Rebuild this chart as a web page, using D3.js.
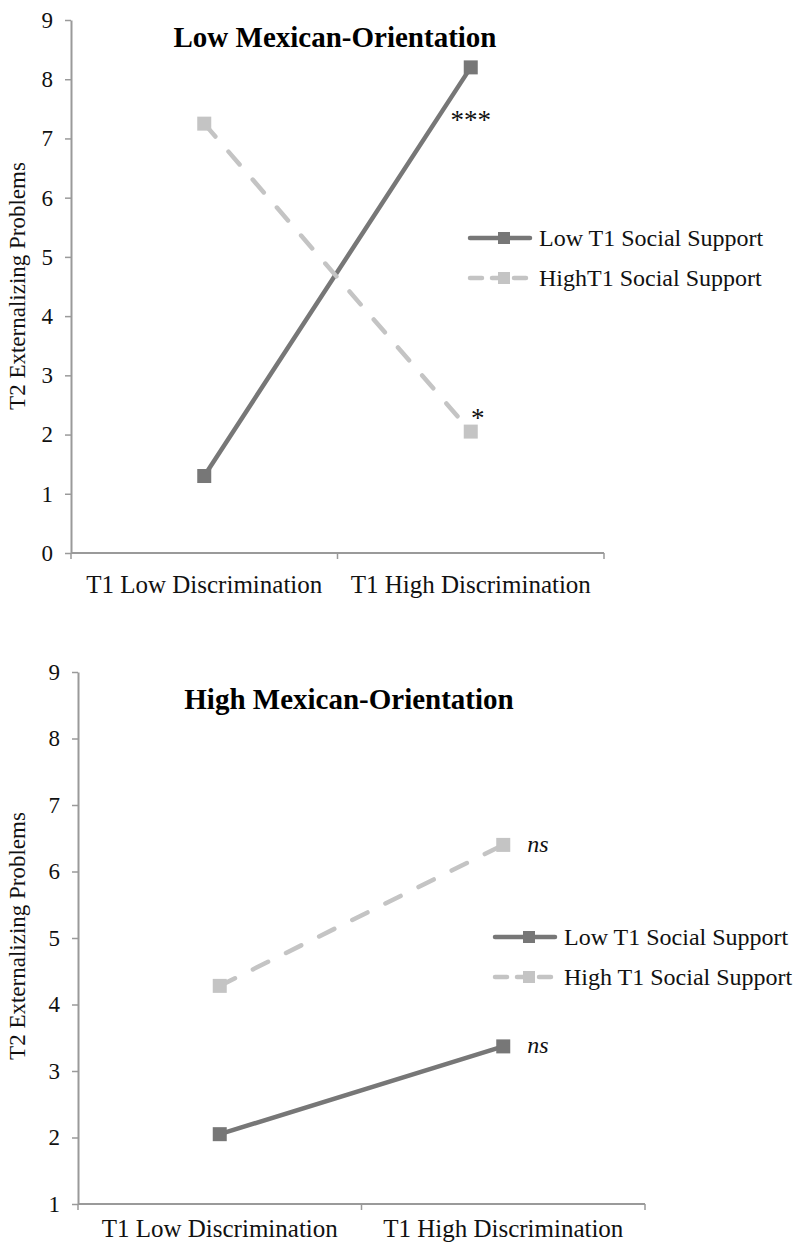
<!DOCTYPE html>
<html>
<head>
<meta charset="utf-8">
<script src="https://cdn.jsdelivr.net/npm/d3@7"></script>
<style>
  body { margin: 0; background: #fff; }
  svg { display: block; font-family: "Liberation Serif", "Times New Roman", serif; }
</style>
</head>
<body>
<svg id="chart" width="801" height="1247"></svg>
<script>
// data
var categories = ["T1 Low Discrimination", "T1 High Discrimination"];

var lowMexLowSupport = [1.3, 8.2];
var lowMexHighSupport = [7.25, 2.05];
var lowMexNames = ["Low T1 Social Support", "HighT1 Social Support"];
var lowMexSig = ["***", "*"];

var highMexLowSupport = [2.05, 3.37];
var highMexHighSupport = [4.28, 6.4];
var highMexNames = ["Low T1 Social Support", "High T1 Social Support"];
var highMexSig = ["ns", "ns"];

var yTicksTop = [0, 1, 2, 3, 4, 5, 6, 7, 8, 9];
var yTicksBottom = [1, 2, 3, 4, 5, 6, 7, 8, 9];

var dark = "#777777", light = "#c4c4c4";
var svg = d3.select("#chart");

function drawPanel(opt) {
  var g = svg.append("g");

  var x = d3.scaleBand()
      .domain(categories)
      .range([opt.left, opt.right]);

  var y = d3.scaleLinear()
      .domain(opt.yDomain)
      .range([opt.bottom, opt.top]);

  // y axis
  var yAxis = g.append("g")
      .attr("transform", `translate(${opt.left},0)`)
      .call(d3.axisLeft(y).tickValues(opt.yTicks).tickSize(6).tickPadding(12).tickSizeOuter(0));
  yAxis.select(".domain").attr("stroke", "#9a9a9a").attr("stroke-width", 2);
  yAxis.selectAll(".tick line").attr("stroke", "#9a9a9a").attr("stroke-width", 1.5);
  yAxis.selectAll(".tick text")
      .attr("font-size", 23).attr("fill", "#111").attr("font-family", "Liberation Serif");

  // x axis: ticks at band edges, labels at centers
  var xAxis = g.append("g")
      .attr("transform", `translate(0,${opt.bottom})`);
  xAxis.append("line")
      .attr("x1", opt.left).attr("x2", opt.right)
      .attr("stroke", "#9a9a9a").attr("stroke-width", 2);
  var edges = [opt.left, x(categories[1]), opt.right];
  xAxis.selectAll(".edge")
      .data(edges)
    .enter().append("line")
      .attr("x1", function(d) { return d; }).attr("x2", function(d) { return d; })
      .attr("y1", 0).attr("y2", 6)
      .attr("stroke", "#9a9a9a").attr("stroke-width", 1.5);
  xAxis.selectAll(".cat")
      .data(categories)
    .enter().append("text")
      .attr("x", function(d) { return x(d) + x.bandwidth() / 2; })
      .attr("y", opt.catDy)
      .attr("text-anchor", "middle")
      .attr("font-size", 25)
      .attr("fill", "#111")
      .text(function(d) { return d; });

  // y axis title
  g.append("text")
      .attr("transform", `translate(${opt.yTitleX},${opt.yTitleY}) rotate(-90)`)
      .attr("text-anchor", "middle")
      .attr("font-size", 23)
      .attr("fill", "#111")
      .text("T2 Externalizing Problems");

  // panel title
  g.append("text")
      .attr("x", opt.titleX)
      .attr("y", opt.titleY)
      .attr("text-anchor", "middle")
      .attr("font-size", 29)
      .attr("font-weight", "bold")
      .attr("fill", "#000")
      .text(opt.title);

  var cx = function(i) { return x(categories[i]) + x.bandwidth() / 2; };
  var line = d3.line()
      .x(function(d, i) { return cx(i); })
      .y(function(d) { return y(d); });

  var series = [
    { values: opt.low, color: dark, dash: null },
    { values: opt.high, color: light, dash: "17,20" }
  ];

  series.forEach(function(s) {
    g.append("path")
        .datum(s.values)
        .attr("d", line)
        .attr("fill", "none")
        .attr("stroke", s.color)
        .attr("stroke-width", 4.5)
        .attr("stroke-linecap", "round")
        .attr("stroke-dasharray", s.dash);
    g.selectAll(null)
        .data(s.values)
      .enter().append("rect")
        .attr("x", function(d, i) { return cx(i) - 7; })
        .attr("y", function(d) { return y(d) - 7; })
        .attr("width", 14).attr("height", 14)
        .attr("fill", s.color);
  });

  // significance marks
  opt.sig.forEach(function(a) {
    var v = opt[a.series][1];
    g.append("text")
        .attr("x", cx(1) + a.dx)
        .attr("y", y(v) + a.dy)
        .attr("text-anchor", a.anchor)
        .attr("font-size", a.size)
        .attr("font-style", a.italic ? "italic" : "normal")
        .attr("fill", "#111")
        .text(a.text);
  });

  // legend
  var leg = g.append("g")
      .attr("transform", `translate(${opt.legX},${opt.legY})`);
  var items = leg.selectAll("g")
      .data([{ name: opt.names[0], color: dark, dash: null }, { name: opt.names[1], color: light, dash: "12,10" }])
    .enter().append("g")
      .attr("transform", function(d, i) { return `translate(0,${i * 40})`; });
  items.append("line")
      .attr("x1", 2).attr("x2", 62)
      .attr("stroke", function(d) { return d.color; })
      .attr("stroke-width", 4.5)
      .attr("stroke-linecap", "round")
      .attr("stroke-dasharray", function(d) { return d.dash; });
  items.append("rect")
      .attr("x", 30).attr("y", -6)
      .attr("width", 12).attr("height", 12)
      .attr("fill", function(d) { return d.color; });
  items.append("text")
      .attr("x", 71).attr("y", 8)
      .attr("font-size", 24)
      .attr("fill", "#111")
      .text(function(d) { return d.name; });
}

drawPanel({
  left: 71, right: 604, top: 20, bottom: 553,
  yDomain: [0, 9], yTicks: yTicksTop,
  catDy: 40, yTitleX: 25, yTitleY: 286,
  title: "Low Mexican-Orientation", titleX: 335, titleY: 47,
  low: lowMexLowSupport, high: lowMexHighSupport,
  names: lowMexNames,
  sig: [
    { text: lowMexSig[0], series: "low", dx: 0, dy: 62, anchor: "middle", size: 27, italic: false },
    { text: lowMexSig[1], series: "high", dx: 7, dy: -5, anchor: "middle", size: 27, italic: false }
  ],
  legX: 468, legY: 238
});

drawPanel({
  left: 78, right: 645, top: 672, bottom: 1204,
  yDomain: [1, 9], yTicks: yTicksBottom,
  catDy: 33, yTitleX: 25, yTitleY: 936,
  title: "High Mexican-Orientation", titleX: 349, titleY: 709,
  low: highMexLowSupport, high: highMexHighSupport,
  names: highMexNames,
  sig: [
    { text: highMexSig[0], series: "high", dx: 24, dy: 7, anchor: "start", size: 24, italic: true },
    { text: highMexSig[1], series: "low", dx: 24, dy: 7, anchor: "start", size: 24, italic: true }
  ],
  legX: 493, legY: 937
});
</script>
</body>
</html>
